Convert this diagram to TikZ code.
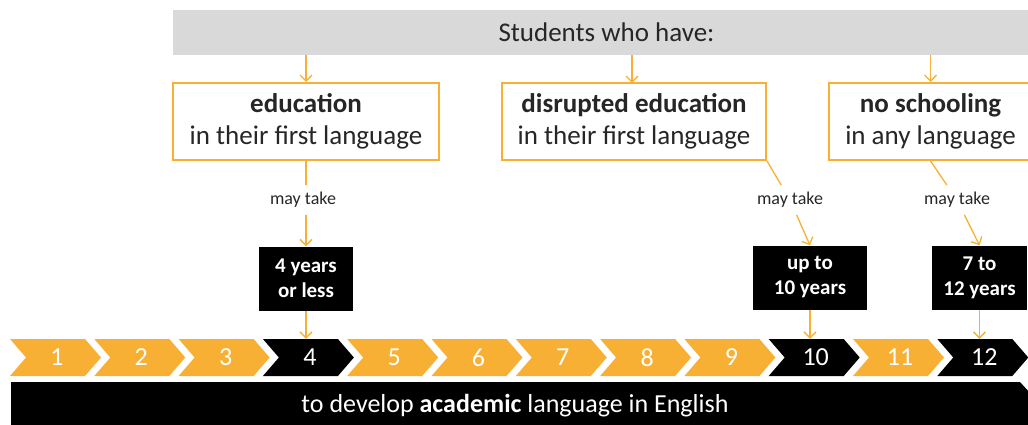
\documentclass[tikz,border=0pt]{standalone}
\usepackage{fontspec}
\setmainfont{Carlito}
\usetikzlibrary{positioning, arrows.meta}
\definecolor{gold}{HTML}{F7B034}
\definecolor{lightgray}{HTML}{D9D9D9}
\definecolor{ink}{HTML}{262626}

\begin{document}
\begin{tikzpicture}[x=1pt, y=-1pt,
    group/.style={draw=gold, line width=2pt, fill=white, minimum width=266pt, minimum height=77pt, inner sep=0pt, align=center, text=ink, font=\fontsize{27}{32}\selectfont},
    years/.style={fill=black, text=white, minimum height=64pt, inner sep=0pt, align=center, font=\bfseries\fontsize{21}{25}\selectfont},
    note/.style={inner sep=7pt, text=ink, font=\fontsize{18}{20}\selectfont},
    num/.style={text=white, inner sep=0pt, minimum height=37pt, font=\fontsize{26}{28}\selectfont},
    arr/.style={gold, line width=1.3pt, -{Straight Barb[length=6pt, width=12pt]}},
    link/.style={gold, line width=1.3pt}]
    \useasboundingbox (0,0) rectangle (1028,425);

    \node[fill=lightgray, minimum width=867pt, minimum height=45pt, inner sep=0pt, text=ink, font=\fontsize{27}{32}\selectfont] (hdr) at (606.5,32.5) {Students who have:};

    \node[group] (edu) at (306,121.5) {\textbf{education}\\in their first language};
    \node[group, minimum width=264pt] (dis) at (634,121.5) {\textbf{disrupted education}\\in their first language};
    \node[group, minimum width=203pt] (none) at (930.5,121.5) {\textbf{no schooling}\\in any language};

    \draw[arr] (hdr.south -| edu.north) -- (edu.north);
    \draw[arr] (hdr.south -| 632,0) -- (632,83);
    \draw[arr] (hdr.south -| none.north) -- (none.north);

    \node[years, minimum width=94pt] (yrs1) at (306,278.5) {4 years\\or less};
    \node[years, minimum width=114pt] (yrs2) at (810,277.5) {up to\\10 years};
    \node[years, minimum width=95pt] (yrs3) at (979.5,277.5) {7 to\\12 years};

    \node[note] (take1) at (303,200) {may take};
    \node[note] (take2) at (790,200) {may take};
    \node[note] (take3) at (957,200) {may take};

    \draw[link] (edu.south) -- (edu.south |- take1.north);
    \draw[arr] (edu.south |- take1.south) -- (yrs1.north);
    \draw[link] (dis.south east) -- (take2);
    \draw[arr] (take2) -- (yrs2.north);
    \draw[link] (none.south) -- (take3);
    \draw[arr] (take3) -- (yrs3.north);

    \foreach \i/\c in {1/gold,2/gold,3/gold,4/black,5/gold,6/gold,7/gold,8/gold,9/gold,10/black,11/gold,12/black}{
        \fill[\c] ({10+(\i-1)*84.3},339) -- ++(75,0) -- ++(16,18.5) -- ++(-16,18.5) -- ++(-75,0) -- ++(16,-18.5) -- cycle;
        \node[num] (n\i) at ({10+(\i-1)*84.3+47},357.5) {\i};
    }

    \draw[arr] (yrs1.south) -- (yrs1.south |- n4.north);
    \draw[arr] (yrs2.south) -- (yrs2.south |- n10.north);
    \draw[arr] (yrs3.south) -- (yrs3.south |- n12.north);

    \fill[black] (11,382) -- (1020,382) -- (1050,415) -- (1020,448) -- (11,448) -- cycle;
    \node[text=white, font=\fontsize{26}{28}\selectfont] (goal) at (515,406) {to develop \textbf{academic} language in English};
\end{tikzpicture}
\end{document}
